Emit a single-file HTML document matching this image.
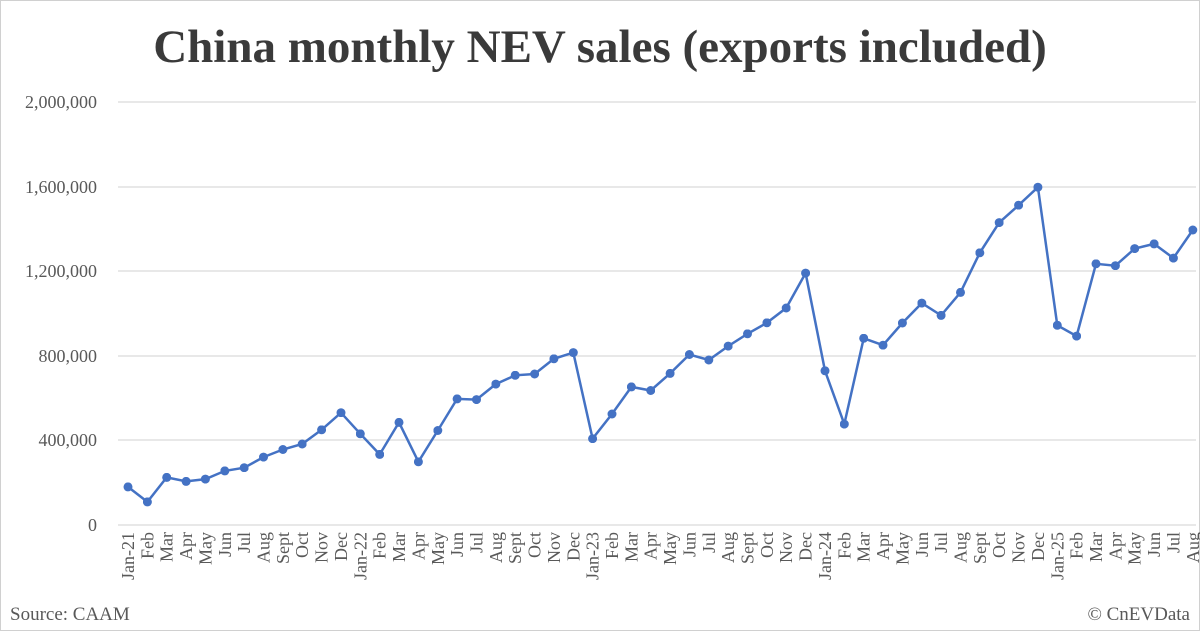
<!DOCTYPE html>
<html><head><meta charset="utf-8"><style>
html,body{margin:0;padding:0;background:#fff}
svg{display:block;font-family:"Liberation Serif",serif}
</style></head><body>
<svg width="1200" height="631" viewBox="0 0 1200 631" xmlns="http://www.w3.org/2000/svg">
<defs><marker id="d" viewBox="0 0 10 10" refX="5" refY="5" markerWidth="9" markerHeight="9" markerUnits="userSpaceOnUse"><circle cx="5" cy="5" r="5" fill="#4472c4"/></marker></defs>
<rect x="0.5" y="0.5" width="1199" height="630" fill="#fff" stroke="#d0d0d0"/>
<text x="600" y="62" text-anchor="middle" font-size="47" font-weight="bold" fill="#3a3a3a">China monthly NEV sales (exports included)</text>
<g stroke="#d9d9d9" stroke-width="1.3">
<line x1="118" x2="1196" y1="102" y2="102"/><line x1="118" x2="1196" y1="187" y2="187"/>
<line x1="118" x2="1196" y1="271" y2="271"/><line x1="118" x2="1196" y1="356" y2="356"/>
<line x1="118" x2="1196" y1="440" y2="440"/><line x1="118" x2="1196" y1="525" y2="525"/>
</g>
<g font-size="18" fill="#595959" text-anchor="end">
<text x="97" y="108">2,000,000</text><text x="97" y="193">1,600,000</text>
<text x="97" y="277">1,200,000</text><text x="97" y="362">800,000</text>
<text x="97" y="446">400,000</text><text x="97" y="531">0</text>
</g>
<polyline fill="none" stroke="#4472c4" stroke-width="2.5" marker-start="url(#d)" marker-mid="url(#d)" marker-end="url(#d)" points="128.0,486.9 147.4,501.9 166.7,477.4 186.1,481.4 205.4,479.1 224.8,470.9 244.2,467.7 263.5,457.1 282.9,449.5 302.2,444.0 321.6,429.8 341.0,412.7 360.3,433.8 379.7,454.4 399.0,422.4 418.4,461.8 437.8,430.5 457.1,398.9 476.5,399.6 495.8,384.1 515.2,375.3 534.6,374.0 553.9,358.8 573.3,352.6 592.6,438.7 612.0,414.0 631.4,386.9 650.7,390.5 670.1,373.4 689.4,354.5 708.8,360.0 728.2,346.1 747.5,333.8 766.9,322.8 786.2,308.0 805.6,273.1 825.0,370.8 844.3,424.1 863.7,338.3 883.0,345.2 902.4,323.0 921.8,303.1 941.1,315.4 960.5,292.4 979.8,252.8 999.2,222.6 1018.6,205.2 1037.9,187.2 1057.3,325.3 1076.6,336.1 1096.0,263.8 1115.4,265.7 1134.7,248.6 1154.1,243.9 1173.4,258.1 1192.8,230.0"/>
<g font-size="18" fill="#595959" text-anchor="end">
<text transform="translate(134.0,532) rotate(-90)">Jan-21</text>
<text transform="translate(153.4,532) rotate(-90)">Feb</text>
<text transform="translate(172.7,532) rotate(-90)">Mar</text>
<text transform="translate(192.1,532) rotate(-90)">Apr</text>
<text transform="translate(211.4,532) rotate(-90)">May</text>
<text transform="translate(230.8,532) rotate(-90)">Jun</text>
<text transform="translate(250.2,532) rotate(-90)">Jul</text>
<text transform="translate(269.5,532) rotate(-90)">Aug</text>
<text transform="translate(288.9,532) rotate(-90)">Sept</text>
<text transform="translate(308.2,532) rotate(-90)">Oct</text>
<text transform="translate(327.6,532) rotate(-90)">Nov</text>
<text transform="translate(347.0,532) rotate(-90)">Dec</text>
<text transform="translate(366.3,532) rotate(-90)">Jan-22</text>
<text transform="translate(385.7,532) rotate(-90)">Feb</text>
<text transform="translate(405.0,532) rotate(-90)">Mar</text>
<text transform="translate(424.4,532) rotate(-90)">Apr</text>
<text transform="translate(443.8,532) rotate(-90)">May</text>
<text transform="translate(463.1,532) rotate(-90)">Jun</text>
<text transform="translate(482.5,532) rotate(-90)">Jul</text>
<text transform="translate(501.8,532) rotate(-90)">Aug</text>
<text transform="translate(521.2,532) rotate(-90)">Sept</text>
<text transform="translate(540.6,532) rotate(-90)">Oct</text>
<text transform="translate(559.9,532) rotate(-90)">Nov</text>
<text transform="translate(579.3,532) rotate(-90)">Dec</text>
<text transform="translate(598.6,532) rotate(-90)">Jan-23</text>
<text transform="translate(618.0,532) rotate(-90)">Feb</text>
<text transform="translate(637.4,532) rotate(-90)">Mar</text>
<text transform="translate(656.7,532) rotate(-90)">Apr</text>
<text transform="translate(676.1,532) rotate(-90)">May</text>
<text transform="translate(695.4,532) rotate(-90)">Jun</text>
<text transform="translate(714.8,532) rotate(-90)">Jul</text>
<text transform="translate(734.2,532) rotate(-90)">Aug</text>
<text transform="translate(753.5,532) rotate(-90)">Sept</text>
<text transform="translate(772.9,532) rotate(-90)">Oct</text>
<text transform="translate(792.2,532) rotate(-90)">Nov</text>
<text transform="translate(811.6,532) rotate(-90)">Dec</text>
<text transform="translate(831.0,532) rotate(-90)">Jan-24</text>
<text transform="translate(850.3,532) rotate(-90)">Feb</text>
<text transform="translate(869.7,532) rotate(-90)">Mar</text>
<text transform="translate(889.0,532) rotate(-90)">Apr</text>
<text transform="translate(908.4,532) rotate(-90)">May</text>
<text transform="translate(927.8,532) rotate(-90)">Jun</text>
<text transform="translate(947.1,532) rotate(-90)">Jul</text>
<text transform="translate(966.5,532) rotate(-90)">Aug</text>
<text transform="translate(985.8,532) rotate(-90)">Sept</text>
<text transform="translate(1005.2,532) rotate(-90)">Oct</text>
<text transform="translate(1024.6,532) rotate(-90)">Nov</text>
<text transform="translate(1043.9,532) rotate(-90)">Dec</text>
<text transform="translate(1063.3,532) rotate(-90)">Jan-25</text>
<text transform="translate(1082.6,532) rotate(-90)">Feb</text>
<text transform="translate(1102.0,532) rotate(-90)">Mar</text>
<text transform="translate(1121.4,532) rotate(-90)">Apr</text>
<text transform="translate(1140.7,532) rotate(-90)">May</text>
<text transform="translate(1160.1,532) rotate(-90)">Jun</text>
<text transform="translate(1179.4,532) rotate(-90)">Jul</text>
<text transform="translate(1198.8,532) rotate(-90)">Aug</text>
</g>
<text x="10" y="620" font-size="19" fill="#595959">Source: CAAM</text>
<text x="1190" y="620" font-size="19" fill="#595959" text-anchor="end">© CnEVData</text>
</svg>
</body></html>
